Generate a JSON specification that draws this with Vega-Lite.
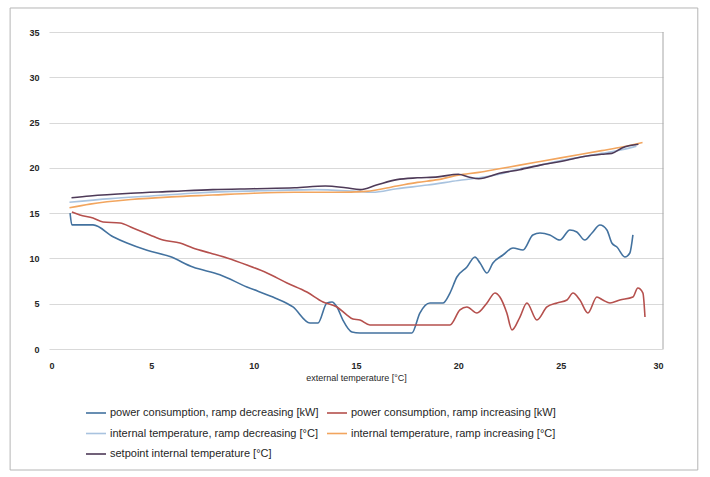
{
  "$schema": "https://vega.github.io/schema/vega-lite/v6.json",
  "width": 614,
  "height": 317,
  "autosize": {"type": "none"},
  "padding": {"left": 49, "top": 32, "right": 47, "bottom": 128},
  "background": "white",
  "config": {
    "font": "Liberation Sans",
    "view": {"stroke": null},
    "axis": {"labelFont": "Liberation Sans", "labelColor": "#262626", "titleColor": "#262626", "labelFontSize": 9, "labelFontWeight": "bold", "ticks": false}
  },
  "datasets": {
    "lines": [
      {"s": "power consumption, ramp decreasing [kW]", "x": 1.03, "y": 15.0},
      {"s": "power consumption, ramp decreasing [kW]", "x": 1.12, "y": 13.7},
      {"s": "power consumption, ramp decreasing [kW]", "x": 1.66, "y": 13.7},
      {"s": "power consumption, ramp decreasing [kW]", "x": 2.15, "y": 13.7},
      {"s": "power consumption, ramp decreasing [kW]", "x": 3.13, "y": 12.4},
      {"s": "power consumption, ramp decreasing [kW]", "x": 3.81, "y": 11.7},
      {"s": "power consumption, ramp decreasing [kW]", "x": 4.79, "y": 10.9},
      {"s": "power consumption, ramp decreasing [kW]", "x": 5.91, "y": 10.2},
      {"s": "power consumption, ramp decreasing [kW]", "x": 7.03, "y": 9.05},
      {"s": "power consumption, ramp decreasing [kW]", "x": 8.35, "y": 8.2},
      {"s": "power consumption, ramp decreasing [kW]", "x": 9.67, "y": 6.85},
      {"s": "power consumption, ramp decreasing [kW]", "x": 10.94, "y": 5.74},
      {"s": "power consumption, ramp decreasing [kW]", "x": 11.92, "y": 4.64},
      {"s": "power consumption, ramp decreasing [kW]", "x": 12.75, "y": 2.87},
      {"s": "power consumption, ramp decreasing [kW]", "x": 13.14, "y": 2.87},
      {"s": "power consumption, ramp decreasing [kW]", "x": 13.58, "y": 5.08},
      {"s": "power consumption, ramp decreasing [kW]", "x": 13.83, "y": 5.19},
      {"s": "power consumption, ramp decreasing [kW]", "x": 14.07, "y": 4.64},
      {"s": "power consumption, ramp decreasing [kW]", "x": 14.36, "y": 3.2},
      {"s": "power consumption, ramp decreasing [kW]", "x": 14.8, "y": 1.88},
      {"s": "power consumption, ramp decreasing [kW]", "x": 15.19, "y": 1.77},
      {"s": "power consumption, ramp decreasing [kW]", "x": 17.73, "y": 1.77},
      {"s": "power consumption, ramp decreasing [kW]", "x": 18.12, "y": 3.97},
      {"s": "power consumption, ramp decreasing [kW]", "x": 18.61, "y": 5.08},
      {"s": "power consumption, ramp decreasing [kW]", "x": 19.25, "y": 5.08},
      {"s": "power consumption, ramp decreasing [kW]", "x": 19.59, "y": 6.18},
      {"s": "power consumption, ramp decreasing [kW]", "x": 19.93, "y": 7.95},
      {"s": "power consumption, ramp decreasing [kW]", "x": 20.42, "y": 9.05},
      {"s": "power consumption, ramp decreasing [kW]", "x": 20.81, "y": 10.16},
      {"s": "power consumption, ramp decreasing [kW]", "x": 21.06, "y": 9.5},
      {"s": "power consumption, ramp decreasing [kW]", "x": 21.4, "y": 8.39},
      {"s": "power consumption, ramp decreasing [kW]", "x": 21.69, "y": 9.5},
      {"s": "power consumption, ramp decreasing [kW]", "x": 22.18, "y": 10.38},
      {"s": "power consumption, ramp decreasing [kW]", "x": 22.67, "y": 11.15},
      {"s": "power consumption, ramp decreasing [kW]", "x": 23.16, "y": 10.93},
      {"s": "power consumption, ramp decreasing [kW]", "x": 23.64, "y": 12.59},
      {"s": "power consumption, ramp decreasing [kW]", "x": 23.99, "y": 12.81},
      {"s": "power consumption, ramp decreasing [kW]", "x": 24.47, "y": 12.59},
      {"s": "power consumption, ramp decreasing [kW]", "x": 24.96, "y": 12.03},
      {"s": "power consumption, ramp decreasing [kW]", "x": 25.45, "y": 13.14},
      {"s": "power consumption, ramp decreasing [kW]", "x": 25.79, "y": 12.92},
      {"s": "power consumption, ramp decreasing [kW]", "x": 26.18, "y": 12.03},
      {"s": "power consumption, ramp decreasing [kW]", "x": 26.53, "y": 12.81},
      {"s": "power consumption, ramp decreasing [kW]", "x": 26.92, "y": 13.69},
      {"s": "power consumption, ramp decreasing [kW]", "x": 27.26, "y": 13.14},
      {"s": "power consumption, ramp decreasing [kW]", "x": 27.5, "y": 11.7},
      {"s": "power consumption, ramp decreasing [kW]", "x": 27.75, "y": 11.26},
      {"s": "power consumption, ramp decreasing [kW]", "x": 28.14, "y": 10.16},
      {"s": "power consumption, ramp decreasing [kW]", "x": 28.38, "y": 10.6},
      {"s": "power consumption, ramp decreasing [kW]", "x": 28.53, "y": 12.59},

      {"s": "power consumption, ramp increasing [kW]", "x": 1.12, "y": 15.13},
      {"s": "power consumption, ramp increasing [kW]", "x": 1.51, "y": 14.8},
      {"s": "power consumption, ramp increasing [kW]", "x": 2.15, "y": 14.46},
      {"s": "power consumption, ramp increasing [kW]", "x": 2.64, "y": 14.02},
      {"s": "power consumption, ramp increasing [kW]", "x": 3.47, "y": 13.91},
      {"s": "power consumption, ramp increasing [kW]", "x": 4.1, "y": 13.36},
      {"s": "power consumption, ramp increasing [kW]", "x": 4.93, "y": 12.59},
      {"s": "power consumption, ramp increasing [kW]", "x": 5.57, "y": 12.03},
      {"s": "power consumption, ramp increasing [kW]", "x": 6.4, "y": 11.7},
      {"s": "power consumption, ramp increasing [kW]", "x": 7.03, "y": 11.15},
      {"s": "power consumption, ramp increasing [kW]", "x": 7.87, "y": 10.6},
      {"s": "power consumption, ramp increasing [kW]", "x": 8.7, "y": 10.05},
      {"s": "power consumption, ramp increasing [kW]", "x": 9.67, "y": 9.27},
      {"s": "power consumption, ramp increasing [kW]", "x": 10.65, "y": 8.39},
      {"s": "power consumption, ramp increasing [kW]", "x": 11.63, "y": 7.29},
      {"s": "power consumption, ramp increasing [kW]", "x": 12.6, "y": 6.29},
      {"s": "power consumption, ramp increasing [kW]", "x": 13.39, "y": 5.19},
      {"s": "power consumption, ramp increasing [kW]", "x": 14.07, "y": 4.64},
      {"s": "power consumption, ramp increasing [kW]", "x": 14.56, "y": 3.75},
      {"s": "power consumption, ramp increasing [kW]", "x": 14.85, "y": 3.31},
      {"s": "power consumption, ramp increasing [kW]", "x": 15.19, "y": 3.2},
      {"s": "power consumption, ramp increasing [kW]", "x": 15.68, "y": 2.65},
      {"s": "power consumption, ramp increasing [kW]", "x": 19.59, "y": 2.65},
      {"s": "power consumption, ramp increasing [kW]", "x": 20.08, "y": 4.31},
      {"s": "power consumption, ramp increasing [kW]", "x": 20.42, "y": 4.64},
      {"s": "power consumption, ramp increasing [kW]", "x": 20.91, "y": 3.97},
      {"s": "power consumption, ramp increasing [kW]", "x": 21.4, "y": 5.08},
      {"s": "power consumption, ramp increasing [kW]", "x": 21.79, "y": 6.18},
      {"s": "power consumption, ramp increasing [kW]", "x": 22.03, "y": 5.74},
      {"s": "power consumption, ramp increasing [kW]", "x": 22.37, "y": 3.97},
      {"s": "power consumption, ramp increasing [kW]", "x": 22.62, "y": 2.1},
      {"s": "power consumption, ramp increasing [kW]", "x": 23.01, "y": 3.53},
      {"s": "power consumption, ramp increasing [kW]", "x": 23.35, "y": 5.08},
      {"s": "power consumption, ramp increasing [kW]", "x": 23.84, "y": 3.2},
      {"s": "power consumption, ramp increasing [kW]", "x": 24.33, "y": 4.64},
      {"s": "power consumption, ramp increasing [kW]", "x": 24.82, "y": 5.08},
      {"s": "power consumption, ramp increasing [kW]", "x": 25.31, "y": 5.41},
      {"s": "power consumption, ramp increasing [kW]", "x": 25.6, "y": 6.18},
      {"s": "power consumption, ramp increasing [kW]", "x": 25.94, "y": 5.41},
      {"s": "power consumption, ramp increasing [kW]", "x": 26.33, "y": 3.97},
      {"s": "power consumption, ramp increasing [kW]", "x": 26.77, "y": 5.74},
      {"s": "power consumption, ramp increasing [kW]", "x": 27.06, "y": 5.41},
      {"s": "power consumption, ramp increasing [kW]", "x": 27.41, "y": 5.08},
      {"s": "power consumption, ramp increasing [kW]", "x": 27.89, "y": 5.41},
      {"s": "power consumption, ramp increasing [kW]", "x": 28.53, "y": 5.74},
      {"s": "power consumption, ramp increasing [kW]", "x": 28.77, "y": 6.73},
      {"s": "power consumption, ramp increasing [kW]", "x": 29.02, "y": 6.18},
      {"s": "power consumption, ramp increasing [kW]", "x": 29.12, "y": 3.53},

      {"s": "internal temperature, ramp decreasing [°C]", "x": 1.0, "y": 16.2},
      {"s": "internal temperature, ramp decreasing [°C]", "x": 3.0, "y": 16.6},
      {"s": "internal temperature, ramp decreasing [°C]", "x": 5.0, "y": 16.9},
      {"s": "internal temperature, ramp decreasing [°C]", "x": 7.0, "y": 17.2},
      {"s": "internal temperature, ramp decreasing [°C]", "x": 9.0, "y": 17.4},
      {"s": "internal temperature, ramp decreasing [°C]", "x": 11.0, "y": 17.5},
      {"s": "internal temperature, ramp decreasing [°C]", "x": 13.0, "y": 17.6},
      {"s": "internal temperature, ramp decreasing [°C]", "x": 15.0, "y": 17.4},
      {"s": "internal temperature, ramp decreasing [°C]", "x": 15.8, "y": 17.3},
      {"s": "internal temperature, ramp decreasing [°C]", "x": 17.0, "y": 17.7},
      {"s": "internal temperature, ramp decreasing [°C]", "x": 18.5, "y": 18.1},
      {"s": "internal temperature, ramp decreasing [°C]", "x": 20.0, "y": 18.6},
      {"s": "internal temperature, ramp decreasing [°C]", "x": 21.0, "y": 18.9},
      {"s": "internal temperature, ramp decreasing [°C]", "x": 22.0, "y": 19.3},
      {"s": "internal temperature, ramp decreasing [°C]", "x": 23.0, "y": 19.9},
      {"s": "internal temperature, ramp decreasing [°C]", "x": 24.0, "y": 20.3},
      {"s": "internal temperature, ramp decreasing [°C]", "x": 25.0, "y": 20.8},
      {"s": "internal temperature, ramp decreasing [°C]", "x": 26.0, "y": 21.2},
      {"s": "internal temperature, ramp decreasing [°C]", "x": 27.0, "y": 21.6},
      {"s": "internal temperature, ramp decreasing [°C]", "x": 28.0, "y": 22.0},
      {"s": "internal temperature, ramp decreasing [°C]", "x": 28.7, "y": 22.4},

      {"s": "internal temperature, ramp increasing [°C]", "x": 1.0, "y": 15.6},
      {"s": "internal temperature, ramp increasing [°C]", "x": 2.0, "y": 16.0},
      {"s": "internal temperature, ramp increasing [°C]", "x": 4.0, "y": 16.5},
      {"s": "internal temperature, ramp increasing [°C]", "x": 6.0, "y": 16.8},
      {"s": "internal temperature, ramp increasing [°C]", "x": 8.0, "y": 17.0},
      {"s": "internal temperature, ramp increasing [°C]", "x": 10.0, "y": 17.2},
      {"s": "internal temperature, ramp increasing [°C]", "x": 12.0, "y": 17.3},
      {"s": "internal temperature, ramp increasing [°C]", "x": 14.0, "y": 17.3},
      {"s": "internal temperature, ramp increasing [°C]", "x": 15.5, "y": 17.4},
      {"s": "internal temperature, ramp increasing [°C]", "x": 17.0, "y": 18.0},
      {"s": "internal temperature, ramp increasing [°C]", "x": 18.0, "y": 18.4},
      {"s": "internal temperature, ramp increasing [°C]", "x": 19.0, "y": 18.7},
      {"s": "internal temperature, ramp increasing [°C]", "x": 20.0, "y": 19.2},
      {"s": "internal temperature, ramp increasing [°C]", "x": 21.0, "y": 19.5},
      {"s": "internal temperature, ramp increasing [°C]", "x": 22.0, "y": 19.9},
      {"s": "internal temperature, ramp increasing [°C]", "x": 23.0, "y": 20.3},
      {"s": "internal temperature, ramp increasing [°C]", "x": 24.0, "y": 20.7},
      {"s": "internal temperature, ramp increasing [°C]", "x": 25.0, "y": 21.1},
      {"s": "internal temperature, ramp increasing [°C]", "x": 26.0, "y": 21.5},
      {"s": "internal temperature, ramp increasing [°C]", "x": 27.0, "y": 21.9},
      {"s": "internal temperature, ramp increasing [°C]", "x": 28.0, "y": 22.3},
      {"s": "internal temperature, ramp increasing [°C]", "x": 29.0, "y": 22.8},

      {"s": "setpoint internal temperature [°C]", "x": 1.1, "y": 16.7},
      {"s": "setpoint internal temperature [°C]", "x": 2.0, "y": 16.9},
      {"s": "setpoint internal temperature [°C]", "x": 4.0, "y": 17.2},
      {"s": "setpoint internal temperature [°C]", "x": 6.0, "y": 17.4},
      {"s": "setpoint internal temperature [°C]", "x": 8.0, "y": 17.6},
      {"s": "setpoint internal temperature [°C]", "x": 10.0, "y": 17.7},
      {"s": "setpoint internal temperature [°C]", "x": 12.0, "y": 17.8},
      {"s": "setpoint internal temperature [°C]", "x": 13.5, "y": 18.0},
      {"s": "setpoint internal temperature [°C]", "x": 14.5, "y": 17.8},
      {"s": "setpoint internal temperature [°C]", "x": 15.2, "y": 17.6},
      {"s": "setpoint internal temperature [°C]", "x": 16.0, "y": 18.1},
      {"s": "setpoint internal temperature [°C]", "x": 17.0, "y": 18.7},
      {"s": "setpoint internal temperature [°C]", "x": 18.0, "y": 18.9},
      {"s": "setpoint internal temperature [°C]", "x": 19.0, "y": 19.0},
      {"s": "setpoint internal temperature [°C]", "x": 20.0, "y": 19.3},
      {"s": "setpoint internal temperature [°C]", "x": 20.5, "y": 19.0},
      {"s": "setpoint internal temperature [°C]", "x": 21.0, "y": 18.8},
      {"s": "setpoint internal temperature [°C]", "x": 22.0, "y": 19.4},
      {"s": "setpoint internal temperature [°C]", "x": 23.0, "y": 19.8},
      {"s": "setpoint internal temperature [°C]", "x": 24.0, "y": 20.3},
      {"s": "setpoint internal temperature [°C]", "x": 25.0, "y": 20.7},
      {"s": "setpoint internal temperature [°C]", "x": 26.0, "y": 21.2},
      {"s": "setpoint internal temperature [°C]", "x": 27.0, "y": 21.5},
      {"s": "setpoint internal temperature [°C]", "x": 27.5, "y": 21.6},
      {"s": "setpoint internal temperature [°C]", "x": 28.0, "y": 22.2},
      {"s": "setpoint internal temperature [°C]", "x": 28.8, "y": 22.6}
    ]
  },
  "layer": [
    {
      "data": {"values": [{"k": 1}]},
      "mark": {"type": "rect", "fill": null, "stroke": "#b5b5b5", "strokeWidth": 1, "clip": false},
      "encoding": {
        "x": {"datum": -1.9, "type": "quantitative", "scale": {"domain": [0, 30], "nice": false}},
        "x2": {"datum": 31.7},
        "y": {"datum": 37.65, "type": "quantitative", "scale": {"domain": [0, 35], "nice": false}},
        "y2": {"datum": -13.36}
      }
    },
    {
      "data": {"values": [{"k": 1}]},
      "mark": {"type": "rule", "color": "#a6a6a6", "strokeWidth": 1},
      "encoding": {"x": {"datum": 30, "type": "quantitative"}}
    },
    {
      "data": {"name": "lines"},
      "mark": {"type": "line", "strokeWidth": 1.6, "interpolate": "monotone"},
      "encoding": {
        "x": {
          "field": "x", "type": "quantitative",
          "scale": {"domain": [0, 30], "nice": false},
          "axis": {"values": [0, 5, 10, 15, 20, 25, 30], "grid": false, "domain": false, "labelPadding": 12, "title": "external temperature [°C]", "titleFontSize": 9, "titleFontWeight": "normal", "titlePadding": 3}
        },
        "y": {
          "field": "y", "type": "quantitative",
          "scale": {"domain": [0, 35], "nice": false},
          "axis": {"values": [0, 5, 10, 15, 20, 25, 30, 35], "grid": true, "gridColor": "#d9d9d9", "domain": false, "labelPadding": 10, "title": null}
        },
        "color": {
          "field": "s", "type": "nominal",
          "scale": {
            "domain": ["power consumption, ramp decreasing [kW]", "internal temperature, ramp decreasing [°C]", "setpoint internal temperature [°C]", "power consumption, ramp increasing [kW]", "internal temperature, ramp increasing [°C]"],
            "range": ["#43729F", "#A9C3DF", "#4E3A58", "#B5504D", "#F2A55E"]
          },
          "legend": {
            "title": null, "orient": "none", "legendX": 36, "legendY": 370, "columns": 2, "symbolType": "stroke", "symbolSize": 400, "symbolStrokeWidth": 1.6,
            "labelFontSize": 11, "labelColor": "#262626", "labelLimit": 300, "rowPadding": 4.5, "columnPadding": 4, "labelOffset": 3
          }
        }
      }
    }
  ]
}
